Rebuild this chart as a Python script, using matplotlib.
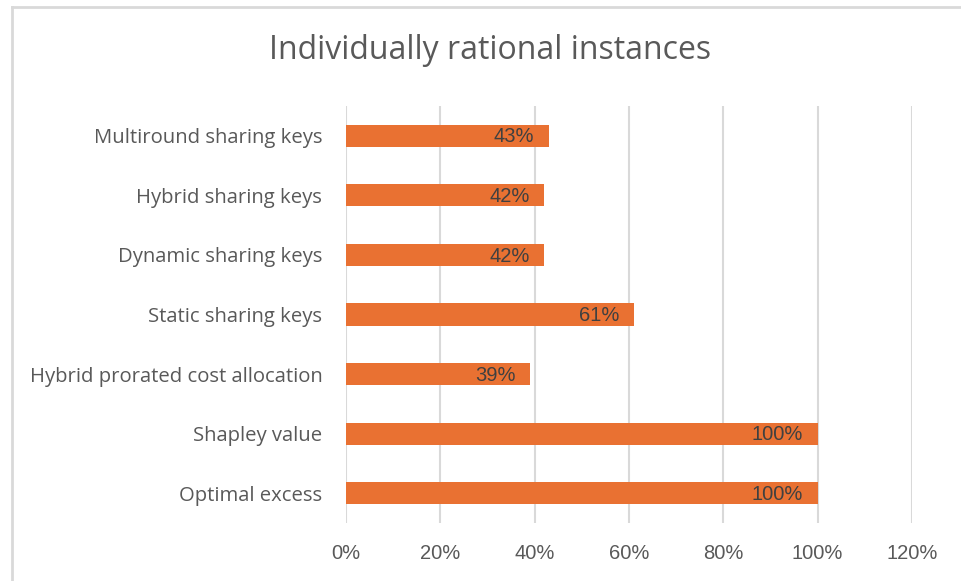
import matplotlib
matplotlib.use("Agg")
import matplotlib.pyplot as plt
from matplotlib.lines import Line2D
from matplotlib.ticker import FuncFormatter, MultipleLocator

categories = ["Optimal excess", "Shapley value", "Hybrid prorated cost allocation",
              "Static sharing keys", "Dynamic sharing keys", "Hybrid sharing keys",
              "Multiround sharing keys"]
values = [1.00, 1.00, 0.39, 0.61, 0.42, 0.42, 0.43]
labels = ["100%", "100%", "39%", "61%", "42%", "42%", "43%"]

plt.rcParams['font.family'] = ['Open Sans', 'DejaVu Sans']
ARIAL = ['Liberation Sans', 'DejaVu Sans']

fig = plt.figure(figsize=(9.61, 5.81), dpi=100)
ax = fig.add_axes([0.360, 0.0998, 0.589, 0.7178])

bars = ax.barh(range(len(categories)), values, height=0.37, color="#E97132", zorder=3)
for b, lab in zip(bars, labels):
    ax.text(b.get_width() - 0.031, b.get_y() + b.get_height() / 2 - 0.02, lab,
            ha="right", va="center", color="#404040", fontsize=14.5,
            family=ARIAL, zorder=4)

ax.set_xlim(0, 1.2)
ax.set_ylim(-0.5, len(categories) - 0.5)
ax.xaxis.set_major_locator(MultipleLocator(0.2))
ax.xaxis.set_major_formatter(FuncFormatter(lambda v, p: f"{v*100:.0f}%"))
ax.set_yticks(range(len(categories)))
ax.set_yticklabels(categories, fontsize=14.6)
for t in ax.get_xticklabels():
    t.set_family(ARIAL)
ax.grid(axis="x", color="#D9D9D9", linewidth=1.5, zorder=0)
for s in ax.spines.values():
    s.set_visible(False)
ax.tick_params(axis="both", length=0, colors="#595959")
ax.tick_params(axis="x", pad=15, labelsize=14.5)
ax.tick_params(axis="y", pad=17)

fig.text(0.51, 0.913, "Individually rational instances", ha="center", va="center",
         fontsize=23, color="#595959")

fig.add_artist(Line2D([12/961, 12/961], [0, 1 - 7/581], transform=fig.transFigure,
                      color="#D9D9D9", linewidth=2))
fig.add_artist(Line2D([12/961, 1], [1 - 7/581, 1 - 7/581], transform=fig.transFigure,
                      color="#D9D9D9", linewidth=2))

fig.savefig("out.png", dpi=100)
